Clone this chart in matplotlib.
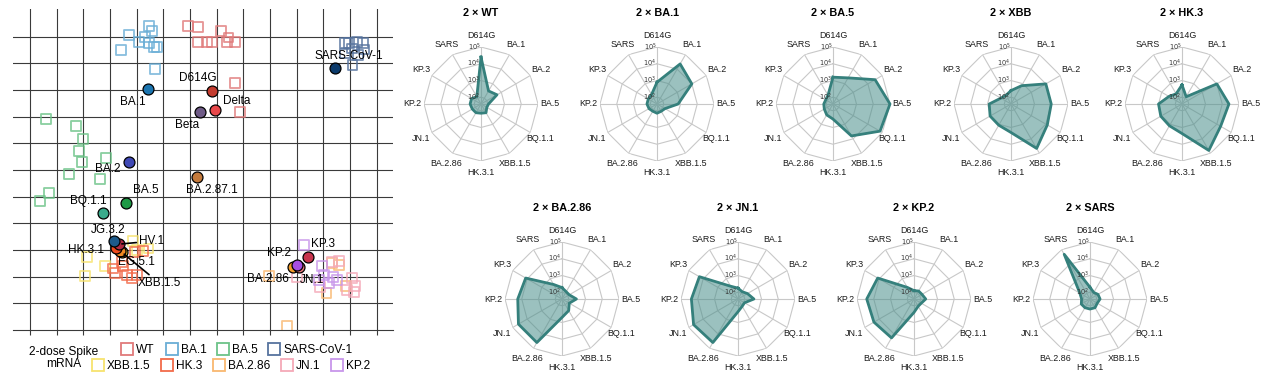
import matplotlib
matplotlib.use("Agg")
import matplotlib.pyplot as plt
import numpy as np
from matplotlib.lines import Line2D
from matplotlib.transforms import offset_copy

plt.rcParams['font.family'] = ['Liberation Sans', 'DejaVu Sans']

# ---------------- antigenic map data (antigenic units) ----------------
antigen_names = ['D614G', 'Beta', 'Delta', 'BA.1', 'SARS-CoV-1', 'BA.2', 'BA.2.87.1',
                 'BA.5', 'BQ.1.1', 'XBB.1.5', 'EG.5.1', 'HK.3.1', 'HV.1', 'JG.3.2',
                 'BA.2.86', 'JN.1', 'KP.2', 'KP.3']
antigen_x = [6.84, 6.37, 6.94, 4.41, 11.43, 3.70, 6.25, 3.59, 2.75, 3.45, 3.36, 3.21,
             3.34, 3.15, 9.85, 10.10, 10.00, 10.44]
antigen_y = [8.97, 8.19, 8.25, 9.03, 9.84, 6.29, 5.75, 4.77, 4.38, 2.91, 2.98, 3.06,
             3.22, 3.34, 2.35, 2.35, 2.44, 2.75]
antigen_colors = ['#c23b2e', '#6e5a86', '#e8484a', '#1b75b0', '#0b3a6b', '#3f48b4',
                  '#c47a3c', '#1e9a46', '#3aab8c', '#e3b92a', '#f08a24', '#ec4a1c',
                  '#b02a40', '#1c5a8a', '#f39c2a', '#ea7d80', '#a64ee2', '#c8344c']

serum_groups = ['WT', 'BA.1', 'BA.5', 'SARS-CoV-1', 'XBB.1.5', 'HK.3', 'BA.2.86', 'JN.1', 'KP.2']
serum_colors = ['#e07a7a', '#6aaed6', '#6cc388', '#56739e', '#f7e36e', '#f26b4a',
                '#f9b870', '#f4a9b8', '#c896ea']

wt_sera_x = [5.91, 6.31, 6.29, 6.65, 6.81, 7.15, 7.44, 7.38, 7.69, 7.69, 7.87]
wt_sera_y = [11.40, 11.37, 10.81, 10.81, 10.80, 11.22, 10.97, 10.79, 10.80, 9.25, 8.19]
ba1_sera_x = [4.46, 4.56, 3.72, 4.31, 4.10, 4.46, 4.75, 4.66, 3.40, 4.69]
ba1_sera_y = [11.40, 11.21, 11.06, 11.00, 10.79, 10.75, 10.62, 10.62, 10.50, 9.79]
ba5_sera_x = [0.59, 1.72, 1.98, 1.84, 1.94, 2.84, 1.47, 2.62, 0.72, 0.37]
ba5_sera_y = [7.91, 7.65, 7.15, 6.72, 6.29, 6.44, 5.85, 5.65, 5.13, 4.85]
sars_sera_x = [11.81, 11.96, 12.25, 12.49, 12.06, 12.53, 11.81, 12.31, 12.09]
sars_sera_y = [10.76, 10.75, 10.81, 10.75, 10.56, 10.52, 10.37, 10.31, 9.94]
xbb_sera_x = [3.87, 4.44, 4.00, 2.15, 2.81, 2.06]
xbb_sera_y = [3.34, 3.06, 3.00, 2.75, 2.40, 2.04]
hk3_sera_x = [4.25, 3.94, 3.44, 3.19, 3.63, 4.00, 3.81, 3.50, 3.12]
hk3_sera_y = [2.97, 2.94, 2.56, 2.13, 2.06, 2.06, 1.94, 2.40, 2.31]
ba286_sera_x = [8.96, 11.31, 11.60, 11.12, 11.85, 9.63]
ba286_sera_y = [2.02, 2.50, 2.44, 1.38, 1.65, 0.16]
jn1_sera_x = [10.02, 11.60, 10.87, 12.06, 11.88, 12.15, 12.19, 11.31]
jn1_sera_y = [1.98, 2.60, 1.62, 1.94, 1.50, 1.44, 1.65, 2.56]
kp2_sera_x = [10.27, 10.94, 11.02, 11.35, 11.22, 11.50, 10.85]
kp2_sera_y = [3.19, 2.40, 2.06, 2.00, 1.75, 1.87, 1.87]

sera_x = [wt_sera_x, ba1_sera_x, ba5_sera_x, sars_sera_x, xbb_sera_x, hk3_sera_x,
          ba286_sera_x, jn1_sera_x, kp2_sera_x]
sera_y = [wt_sera_y, ba1_sera_y, ba5_sera_y, sars_sera_y, xbb_sera_y, hk3_sera_y,
          ba286_sera_y, jn1_sera_y, kp2_sera_y]

# label offsets (pixels) for antigen names
label_offsets = {
    'D614G': (-15, 13), 'Beta': (-13, -13), 'Delta': (22, 9), 'BA.1': (-15, -13),
    'SARS-CoV-1': (14, 12), 'BA.2': (-21, -7), 'BA.2.87.1': (15, -13),
    'BA.5': (20, 13), 'BQ.1.1': (-15, 12), 'JG.3.2': (-6, 11), 'HK.3.1': (-30, -2),
    'EG.5.1': (17, -11), 'KP.3': (15, 13), 'KP.2': (-18, 12), 'BA.2.86': (-25, -12),
    'JN.1': (13, -13),
}

# ---------------- radar data (log10 titers) ----------------
variants = ['D614G', 'BA.1', 'BA.2', 'BA.5', 'BQ.1.1', 'XBB.1.5', 'HK.3.1',
            'BA.2.86', 'JN.1', 'KP.2', 'KP.3', 'SARS']
titer_wt = [4.4, 2.5, 2.7, 2.05, 2.0, 2.2, 2.15, 2.2, 2.2, 2.25, 2.25, 2.1]
titer_ba1 = [2.9, 4.36, 4.0, 2.86, 2.15, 2.1, 2.15, 2.1, 2.15, 2.2, 2.2, 2.25]
titer_ba5 = [3.2, 3.4, 4.5, 5.0, 4.84, 3.8, 2.5, 2.35, 2.2, 2.15, 2.1, 2.2]
titer_xbb = [2.4, 2.86, 4.0, 4.0, 4.1, 4.66, 3.3, 3.06, 3.04, 2.9, 2.3, 2.2]
titer_hk3 = [2.74, 2.1, 4.0, 4.4, 4.26, 4.8, 3.36, 3.1, 3.06, 3.0, 2.5, 2.3]
titer_ba286 = [2.28, 2.1, 2.1, 2.46, 2.1, 2.4, 2.7, 4.6, 4.6, 4.24, 4.1, 2.6]
titer_jn1 = [2.25, 2.1, 2.25, 2.55, 2.05, 2.1, 2.36, 4.6, 4.66, 4.38, 4.26, 2.48]
titer_kp2 = [2.1, 2.15, 2.15, 2.3, 2.1, 2.1, 2.4, 4.28, 4.36, 4.42, 4.1, 2.4]
titer_sars = [2.3, 2.05, 2.15, 2.2, 2.1, 2.2, 2.2, 2.2, 2.2, 2.1, 2.3, 4.68]

panel_titles = ['2 × WT', '2 × BA.1', '2 × BA.5', '2 × XBB', '2 × HK.3',
                '2 × BA.2.86', '2 × JN.1', '2 × KP.2', '2 × SARS']
panel_titers = [titer_wt, titer_ba1, titer_ba5, titer_xbb, titer_hk3,
                titer_ba286, titer_jn1, titer_kp2, titer_sars]
ring_levels = [2, 3, 4, 5]

W, H = 1267, 383
fig = plt.figure(figsize=(W / 100, H / 100), dpi=100)

# ---------------- antigenic map ----------------
ax = fig.add_axes([13 / W, 53 / H, 380 / W, 321 / H])
ax.set_xlim(-0.6375, 13.61)
ax.set_ylim(0, 12.04)
for k in range(14):
    ax.axvline(k, color='#3a3a3a', lw=0.8, zorder=0)
for k in range(1, 12):
    ax.axhline(k, color='#3a3a3a', lw=0.8, zorder=0)
for s in ['left', 'right', 'top']:
    ax.spines[s].set_visible(False)
ax.spines['bottom'].set_color('#3a3a3a')
ax.spines['bottom'].set_linewidth(0.8)
ax.set_xticks(range(14))
ax.set_xticklabels([])
ax.set_yticks([])
ax.tick_params(axis='x', length=3.6, width=0.8, color='#3a3a3a')

for xs, ys, c in zip(sera_x, sera_y, serum_colors):
    ax.scatter(xs, ys, marker='s', s=50, facecolors='none', edgecolors=c,
               linewidths=1.3, alpha=0.8, zorder=2)

for name, x, y, c in zip(antigen_names, antigen_x, antigen_y, antigen_colors):
    ax.scatter([x], [y], s=62, color=c, edgecolors='black', linewidths=0.9, zorder=4)
    if name in label_offsets:
        ax.annotate(name, (x, y), xytext=label_offsets[name], textcoords='offset pixels',
                    ha='center', va='center', fontsize=8.5, zorder=5)

i_hv = antigen_names.index('HV.1')
ax.annotate('HV.1', (antigen_x[i_hv], antigen_y[i_hv]), xytext=(20, 3),
            textcoords='offset pixels', ha='left', va='center', fontsize=8.5, zorder=5,
            arrowprops=dict(arrowstyle='-', color='black', lw=1.2, shrinkA=0, shrinkB=2))
i_xbb = antigen_names.index('XBB.1.5')
ax.annotate('XBB.1.5', (antigen_x[i_xbb], antigen_y[i_xbb]), xytext=(16, -31),
            textcoords='offset pixels', ha='left', va='center', fontsize=8.5, zorder=5,
            arrowprops=dict(arrowstyle='-', color='black', lw=1.2, shrinkA=0, shrinkB=2))

# legend
handles = [Line2D([], [], marker='s', linestyle='none', markerfacecolor='none',
                  markeredgecolor=c, markersize=8, markeredgewidth=1.3)
           for c in serum_colors]
fig.legend(handles[:4], serum_groups[:4], loc='center', bbox_to_anchor=(237 / W, 1 - 350 / H),
           ncol=4, frameon=False, fontsize=8.6, handlelength=1.0, handletextpad=0.25,
           columnspacing=0.9, borderpad=0)
fig.legend(handles[4:], serum_groups[4:], loc='center', bbox_to_anchor=(231 / W, 1 - 366 / H),
           ncol=5, frameon=False, fontsize=8.6, handlelength=1.0, handletextpad=0.25,
           columnspacing=0.9, borderpad=0)
fig.text(64 / W, 1 - 358 / H, '2-dose Spike\nmRNA', ha='center', va='center',
         fontsize=8.6, linespacing=1.0)

# ---------------- radar panels ----------------
centers = [(481, 104), (657, 104), (833, 104), (1011, 104), (1182, 104),
           (562, 299), (738, 299), (914, 299), (1090, 299)]
R = 57
angles = np.linspace(0, 2 * np.pi, len(variants), endpoint=False)
closed = np.append(angles, angles[0])
rmin = 1.6

for (cx, cy), title, vals in zip(centers, panel_titles, panel_titers):
    pa = fig.add_axes([(cx - R) / W, (H - cy - R) / H, 2 * R / W, 2 * R / H], projection='polar')
    pa.set_theta_zero_location('N')
    pa.set_theta_direction(-1)
    pa.set_ylim(rmin, 5)
    pa.grid(False)
    pa.spines['polar'].set_visible(False)
    pa.set_yticks([])
    pa.set_xticks(angles)
    pa.set_xticklabels(variants, fontsize=6.4, color='#1a1a1a')
    pa.tick_params(axis='x', pad=-2)
    for lev in ring_levels:
        pa.plot(closed, [lev] * len(closed), color='#c8c8c8', lw=0.8, zorder=1)
    for a in angles:
        pa.plot([a, a], [rmin, 5], color='#c8c8c8', lw=0.8, zorder=1)
    v = np.append(vals, vals[0])
    pa.fill(closed, v, color='#4a8f8b', alpha=0.55, zorder=2, clip_on=False)
    pa.plot(closed, v, color='#35807c', lw=2.0, zorder=3, clip_on=False)
    trans = offset_copy(pa.transData, fig=fig, x=-7, y=0, units='dots')
    for lev in ring_levels:
        pa.text(0, lev, r'$10^{%d}$' % lev, transform=trans, ha='center', va='center',
                fontsize=4.8, color='#333333', zorder=4)
    fig.text(cx / W, 1 - (cy - 91) / H, title, ha='center', va='center',
             fontsize=7.8, fontweight='bold')

fig.savefig('out.png', dpi=100)
